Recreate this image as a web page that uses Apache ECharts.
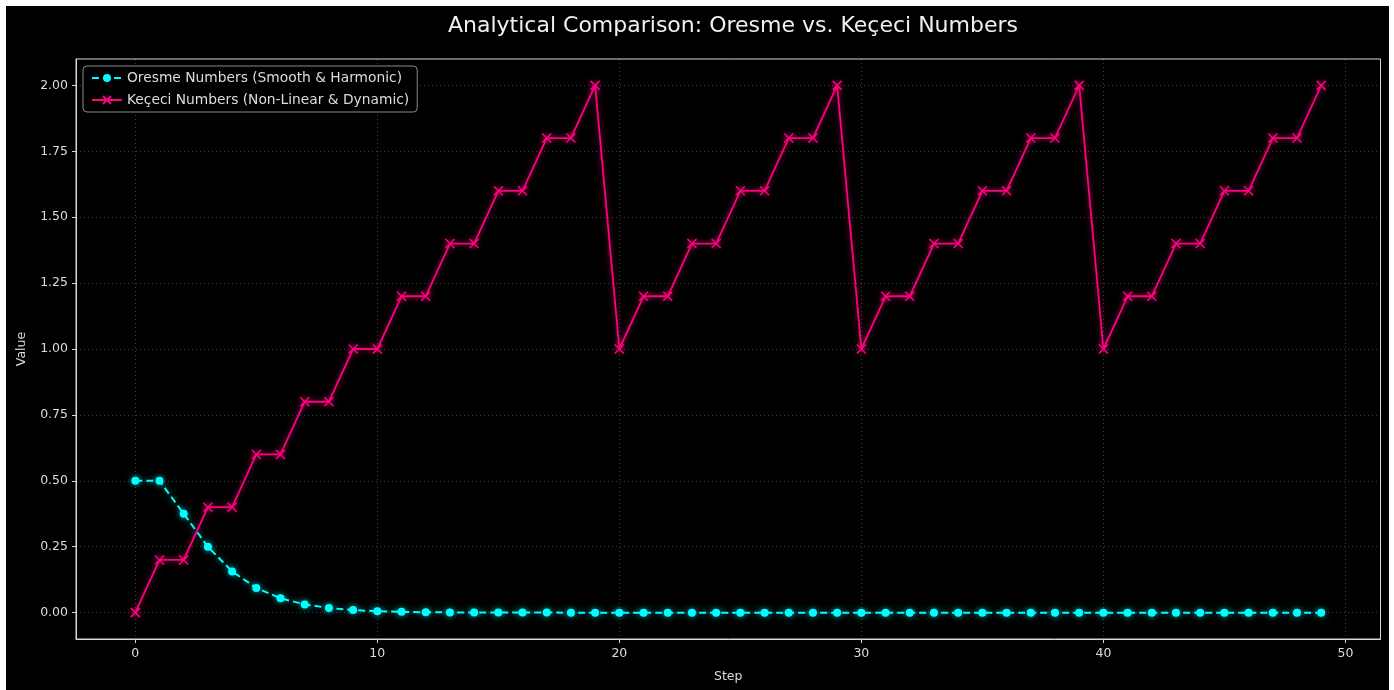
<!DOCTYPE html>
<html><head><meta charset="utf-8">
<script src="https://cdn.jsdelivr.net/npm/echarts@6/dist/echarts.min.js"></script>
<style>html,body{margin:0;padding:0;background:#fff}#wrap{position:absolute;left:6px;top:6px;width:1383px;height:684px;background:#000}#c{position:absolute;left:-6px;top:-6px;width:1394px;height:690px}</style>
</head><body><div id="wrap"><div id="c"></div></div>
<script>
const steps = [];
for (let i = 0; i < 50; i++) steps.push(i);
const oresme = [0.5, 0.5, 0.375, 0.25, 0.15625, 0.09375, 0.0547, 0.03125, 0.0176, 0.0098, 0.0054, 0.0029, 0.0016, 0.0009, 0.0005, 0.0003, 0.0001, 0.0001, 0, 0, 0, 0, 0, 0, 0, 0, 0, 0, 0, 0, 0, 0, 0, 0, 0, 0, 0, 0, 0, 0, 0, 0, 0, 0, 0, 0, 0, 0, 0, 0];
const kececi = [0, 0.2, 0.2, 0.4, 0.4, 0.6, 0.6, 0.8, 0.8, 1.0, 1.0, 1.2, 1.2, 1.4, 1.4, 1.6, 1.6, 1.8, 1.8, 2.0,
  1.0, 1.2, 1.2, 1.4, 1.4, 1.6, 1.6, 1.8, 1.8, 2.0,
  1.0, 1.2, 1.2, 1.4, 1.4, 1.6, 1.6, 1.8, 1.8, 2.0,
  1.0, 1.2, 1.2, 1.4, 1.4, 1.6, 1.6, 1.8, 1.8, 2.0];
const xTicks = [0, 10, 20, 30, 40, 50];
const yTicks = [0, 0.25, 0.5, 0.75, 1.0, 1.25, 1.5, 1.75, 2.0];
const titleText = 'Analytical Comparison: Oresme vs. Keçeci Numbers';
const nameO = 'Oresme Numbers (Smooth & Harmonic)';
const nameK = 'Keçeci Numbers (Non-Linear & Dynamic)';

const CYAN = '#00ffff', PINK = '#ff0080', TXT = '#dcdcdc';
const font = 'DejaVu Sans';
const chart = echarts.init(document.getElementById('c'), null, {renderer: 'canvas'});
const gridLine = {show: true, lineStyle: {color: 'rgba(255,255,255,0.3)', type: [1, 3], width: 0.8}};
chart.setOption({
  backgroundColor: 'transparent',
  textStyle: {fontFamily: font},
  title: {text: titleText, left: 728, textAlign: 'center', top: 10, textStyle: {color: '#f0f0f0', fontSize: 22, fontWeight: 'normal', fontFamily: font}},
  legend: {
    left: 83, top: 66, orient: 'vertical', itemGap: 8, itemWidth: 30, itemHeight: 10,
    backgroundColor: '#000', borderColor: '#8a8a8a', borderWidth: 1, borderRadius: 4,
    padding: [5, 8, 5, 8],
    textStyle: {color: TXT, fontSize: 13.8, fontFamily: font},
    data: [nameO, nameK]
  },
  grid: {left: 76, right: 13.5, top: 59, bottom: 51, containLabel: false, show: true, borderColor: '#d8d8d8', borderWidth: 1, backgroundColor: 'transparent'},
  xAxis: {
    type: 'value', min: -2.45, max: 51.45, name: 'Step', nameLocation: 'middle', nameGap: 31,
    nameTextStyle: {color: TXT, fontSize: 12.5, fontFamily: font},
    axisLine: {show: true, onZero: false, lineStyle: {color: '#d8d8d8', width: 1}},
    axisTick: {show: true, customValues: xTicks, length: 4, lineStyle: {color: '#d8d8d8'}},
    axisLabel: {customValues: xTicks, color: TXT, fontSize: 12.5, margin: 8, fontFamily: font},
    splitLine: gridLine
  },
  yAxis: {
    type: 'value', min: -0.1, max: 2.1, name: 'Value', nameLocation: 'middle', nameGap: 48,
    nameTextStyle: {color: TXT, fontSize: 12.5, fontFamily: font},
    axisLine: {show: true, onZero: false, lineStyle: {color: '#d8d8d8', width: 1}},
    axisTick: {show: true, customValues: yTicks, length: 4, lineStyle: {color: '#d8d8d8'}},
    axisLabel: {customValues: yTicks, color: TXT, fontSize: 12.5, margin: 8, fontFamily: font, formatter: v => v.toFixed(2)},
    splitLine: gridLine
  },
  series: [
    {
      name: nameO, type: 'line', data: steps.map((s, i) => [s, oresme[i]]),
      symbol: 'circle', symbolSize: 8, showAllSymbol: true,
      lineStyle: {color: CYAN, width: 2, type: [7, 4], shadowColor: 'rgba(0,255,255,0.6)', shadowBlur: 6},
      itemStyle: {color: CYAN, shadowColor: 'rgba(0,255,255,0.6)', shadowBlur: 6},
      z: 3
    },
    {
      name: nameK, type: 'line', data: steps.map((s, i) => [s, kececi[i]]),
      symbol: 'path://M0,0L10,10M10,0L0,10', symbolSize: 9, showAllSymbol: true,
      lineStyle: {color: PINK, width: 1.8, shadowColor: 'rgba(255,0,128,0.6)', shadowBlur: 6},
      itemStyle: {color: PINK, borderColor: PINK, borderWidth: 1.5, shadowColor: 'rgba(255,0,128,0.6)', shadowBlur: 6},
      z: 4
    }
  ],
  animation: false
});
</script></body></html>
